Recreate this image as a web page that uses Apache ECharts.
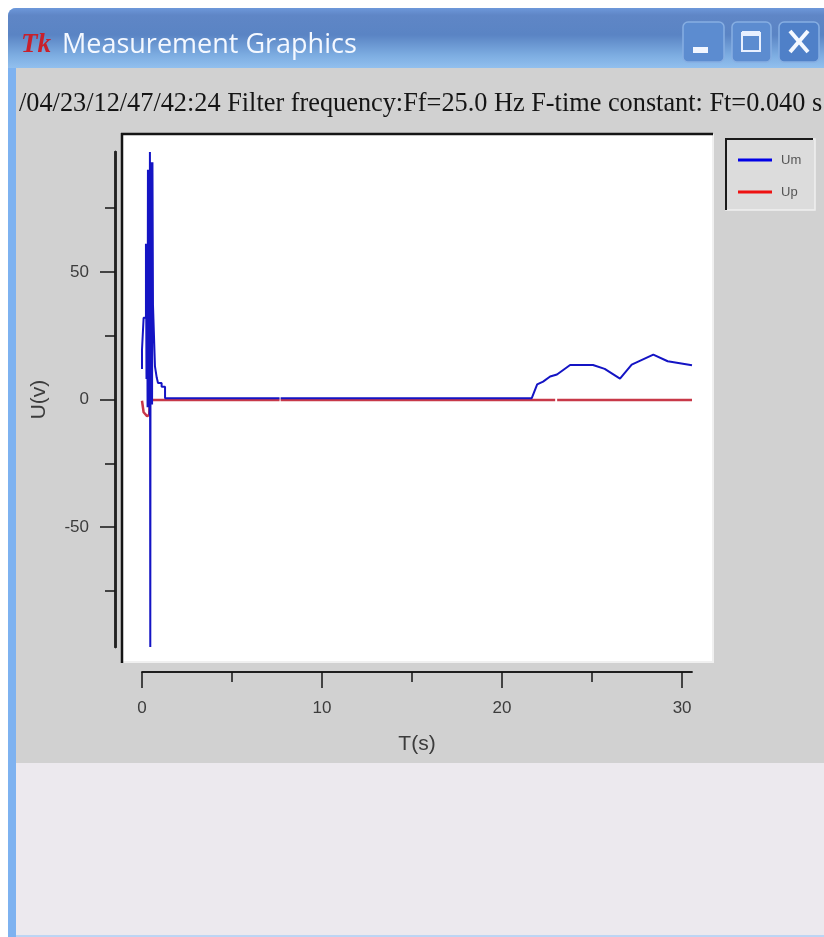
<!DOCTYPE html>
<html>
<head>
<meta charset="utf-8">
<style>html,body{margin:0;padding:0;background:#fff}#c{width:824px;height:937px}</style>
<script src="https://cdn.jsdelivr.net/npm/echarts@6/dist/echarts.min.js"></script>
</head>
<body>
<div id="c"></div>
<script>
const windowTitle = 'Measurement Graphics';
const headerText = '/04/23/12/47/42:24 Filter frequency:Ff=25.0 Hz F-time constant: Ft=0.040 s';
const seriesNames = ['Um', 'Up'];
const xMajorTicks = [0, 10, 20, 30];
const xMinorTicks = [5, 15, 25];
const yMajorTicks = [-50, 0, 50];
const yMinorTicks = [-75, -25, 25, 75];
const umPoints = [
  [0,12],[0,19.5],[0.09,19.5],[0.09,32],[0.22,32],[0.22,61],[0.25,61],[0.25,8],[0.28,8],[0.28,61],
  [0.31,61],[0.31,-3],[0.33,-3],[0.33,90],[0.36,90],[0.36,0],[0.39,0],[0.39,90],[0.42,90],[0.42,-6],
  [0.44,-6],[0.44,97],[0.46,97],[0.46,-97],[0.48,-97],[0.48,93],[0.5,93],[0.5,-2],[0.53,-2],[0.53,93],
  [0.56,93],[0.56,-2],[0.58,-2],[0.58,93],[0.61,93],[0.61,37],[0.72,37],[0.72,13],[0.82,13],[0.82,8.5],
  [0.89,8.5],[0.89,6.5],[1.09,6.5],[1.09,5],[1.28,5],[1.28,0.5],[7.64,0.5],[7.66,null],[7.7,0.5],
  [21.65,0.5],[21.95,5.9],[22.28,7],[22.67,9],[23.05,9.8],[23.78,13.5],[25.05,13.5],[25.7,12],[26.55,8.2],
  [27.2,13.7],[28.4,17.6],[29.2,15],[30.55,13.4]
];
const upPoints = [
  [0,-0.5],[0.09,-5],[0.28,-6.5],[0.4,-6],[0.44,-0.2],[7.64,-0.2],[7.66,null],[7.7,-0.2],[22.95,-0.2],[23,null],[23.06,-0.2],[30.55,-0.2]
];

const xAxisBase = {
  type:'value', position:'bottom', min:0, max:30.55, offset:25, splitLine:{show:false},
  axisLine:{onZero:false, lineStyle:{color:'#141414', width:1.5}}
};
const yAxisBase = {
  type:'value', position:'left', min:-97, max:97, offset:27, splitLine:{show:false},
  axisLine:{onZero:false, lineStyle:{color:'#222', width:2.5}}
};
const labelColor = '#3c3c3c';
const labelFont = {color:labelColor, fontFamily:'Liberation Sans', fontSize:17};

const chart = echarts.init(document.getElementById('c'), null, {renderer:'canvas'});
chart.setOption({
  animation:false,
  backgroundColor:'#fff',
  title:[
    {text:windowTitle, left:62, top:32, padding:0, textStyle:{color:'#f4f8ff', fontFamily:'Open Sans', fontWeight:'normal', fontSize:27}},
    {text:headerText, left:19, top:91, padding:0, textStyle:{color:'#151515', fontFamily:'Liberation Serif', fontWeight:'normal', fontSize:26.3}}
  ],
  grid:{left:142, top:152, width:550, height:495, containLabel:false},
  xAxis:[
    Object.assign({}, xAxisBase, {
      name:'T(s)', nameLocation:'middle', nameGap:62,
      nameTextStyle:Object.assign({}, labelFont, {fontSize:21}),
      axisTick:{length:16, customValues:xMajorTicks, lineStyle:{color:'#141414', width:1.5}},
      axisLabel:Object.assign({customValues:xMajorTicks, margin:28}, labelFont)
    }),
    Object.assign({}, xAxisBase, {
      axisTick:{length:10, customValues:xMinorTicks, lineStyle:{color:'#141414', width:1.5}},
      axisLabel:{show:false}
    })
  ],
  yAxis:[
    Object.assign({}, yAxisBase, {
      name:'U(v)', nameLocation:'middle', nameGap:65, nameRotate:90,
      nameTextStyle:Object.assign({}, labelFont, {fontSize:21}),
      axisTick:{length:15, customValues:yMajorTicks, lineStyle:{color:'#141414', width:1.5}},
      axisLabel:Object.assign({customValues:yMajorTicks, margin:26}, labelFont)
    }),
    Object.assign({}, yAxisBase, {
      axisTick:{length:10, customValues:yMinorTicks, lineStyle:{color:'#141414', width:1.5}},
      axisLabel:{show:false}
    })
  ],
  legend:{
    orient:'vertical', left:738, top:153, icon:'rect', itemWidth:34, itemHeight:3, itemGap:18, padding:0,
    data:seriesNames, selectedMode:false,
    textStyle:{color:'#555', fontFamily:'Liberation Sans', fontSize:13, padding:[0,0,0,4], lineHeight:14}
  },
  series:[
    {name:seriesNames[0], type:'line', data:umPoints, showSymbol:false, symbol:'none', clip:false, z:4,
     lineStyle:{color:'#1414c4', width:2}, itemStyle:{color:'#0000e6'}},
    {name:seriesNames[1], type:'line', data:upPoints, showSymbol:false, symbol:'none', clip:false, z:3,
     lineStyle:{color:'#c83848', width:2.5}, itemStyle:{color:'#ee1111'}}
  ],
  graphic:{elements:[
    {type:'rect', z:-5, shape:{x:8,y:8,width:816,height:929,r:[8,0,0,0]}, style:{fill:'#7eb2f0'}},
    {type:'rect', z:-4, shape:{x:8,y:8,width:816,height:60,r:[8,0,0,0]},
     style:{fill:new echarts.graphic.LinearGradient(0,0,0,1,[
       {offset:0,color:'#6d98da'},{offset:0.12,color:'#5f86c6'},{offset:0.45,color:'#5a84c4'},{offset:0.8,color:'#7eaee2'},{offset:1,color:'#92c0ee'}])}},
    {type:'rect', z:-4, shape:{x:16,y:68,width:808,height:695}, style:{fill:'#d1d1d1'}},
    {type:'rect', z:-4, shape:{x:16,y:763,width:808,height:172}, style:{fill:'#ece9ee'}},
    {type:'rect', z:-4, shape:{x:16,y:935,width:808,height:2}, style:{fill:'#bcd5f4'}},
    {type:'text', z:-3, style:{x:21,y:32,text:'Tk',fill:'#c8202c',font:'italic bold 27px "Liberation Serif"'}},
    // caption buttons
    {type:'rect', z:-3, shape:{x:683,y:22,width:41,height:40,r:5}, style:{fill:'#5c8cd0',stroke:'#86aee2',lineWidth:1.5}},
    {type:'rect', z:-3, shape:{x:732,y:22,width:39,height:40,r:5}, style:{fill:'#5c8cd0',stroke:'#86aee2',lineWidth:1.5}},
    {type:'rect', z:-3, shape:{x:779,y:22,width:40,height:40,r:5}, style:{fill:'#4f80c8',stroke:'#86aee2',lineWidth:1.5}},
    {type:'rect', z:-2, shape:{x:693,y:47,width:15,height:6}, style:{fill:'#f2f6ff'}},
    {type:'rect', z:-2, shape:{x:742,y:33,width:18,height:18}, style:{fill:'none',stroke:'#e8f0ff',lineWidth:2}},
    {type:'rect', z:-2, shape:{x:742,y:31,width:18,height:5}, style:{fill:'#e8f0ff'}},
    {type:'line', z:-2, shape:{x1:790,y1:31,x2:808,y2:52}, style:{stroke:'#f4f8ff',lineWidth:4}},
    {type:'line', z:-2, shape:{x1:808,y1:31,x2:790,y2:52}, style:{stroke:'#f4f8ff',lineWidth:4}},
    // plot panel
    {type:'rect', z:-3, shape:{x:122,y:134,width:592,height:529}, style:{fill:'#f0f0f0'}},
    {type:'rect', z:-2, shape:{x:122,y:134,width:590,height:527}, style:{fill:'#ffffff'}},
    {type:'line', z:-1, shape:{x1:121,y1:134,x2:713,y2:134}, style:{stroke:'#151515',lineWidth:2.5}},
    {type:'line', z:-1, shape:{x1:122,y1:133,x2:122,y2:663}, style:{stroke:'#151515',lineWidth:2.5}},
    // legend panel
    {type:'rect', z:-3, shape:{x:726,y:139,width:89,height:71}, style:{fill:'#dcdcdc',stroke:'#efefef',lineWidth:1.5}},
    {type:'line', z:-1, shape:{x1:726,y1:139,x2:813,y2:139}, style:{stroke:'#1a1a1a',lineWidth:2}},
    {type:'line', z:-1, shape:{x1:726,y1:138,x2:726,y2:210}, style:{stroke:'#1a1a1a',lineWidth:2}}
  ]}
});
</script>
</body>
</html>
